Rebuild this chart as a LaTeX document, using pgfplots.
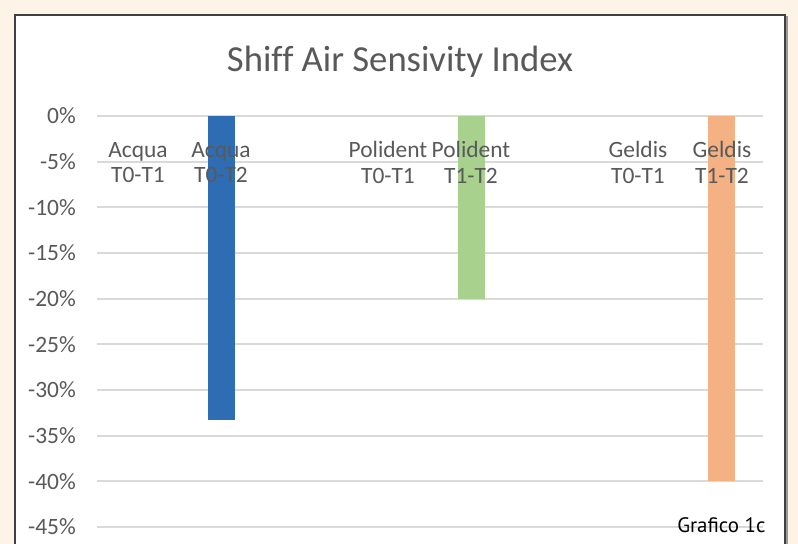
\documentclass[border=0pt]{standalone}
\usepackage{pgfplots}
\pgfplotsset{compat=1.18}
\usepackage{fontspec}
\setmainfont{Carlito}[Ligatures=NoCommon]
\newfontfamily\capfont{PT Sans}[Numbers=OldStyle]
\definecolor{peach}{HTML}{FDF3E7}
\definecolor{txtgray}{HTML}{595959}
\definecolor{gridgray}{HTML}{D9D9D9}
\definecolor{barblue}{HTML}{2E6DB4}
\definecolor{bargreen}{HTML}{A9D18E}
\definecolor{barorange}{HTML}{F4B183}
\begin{document}
\begin{tikzpicture}
\useasboundingbox (0bp,0bp) rectangle (798bp,544bp);
\fill[peach] (0bp,0bp) rectangle (798bp,544bp);
\fill[white] (15bp,0bp) rectangle (785bp,529bp);
\draw[line width=1.2bp, black!75] (15bp,-2bp) -- (15bp,529bp) -- (785bp,529bp) -- (785bp,-2bp);
\draw[line width=2bp, black!40] (786.5bp,-2bp) -- (786.5bp,528bp);
\node[anchor=base, text=txtgray, font=\fontsize{36.8}{44}\selectfont] at (400bp,472bp) {Shiff Air Sensivity Index};
\begin{axis}[
  at={(97bp,17bp)}, anchor=south west,
  scale only axis, width=666bp, height=411bp,
  xmin=97, xmax=763, ymin=-45, ymax=0,
  axis line style={draw=none},
  xtick=\empty,
  ytick={-45,-40,-35,-30,-25,-20,-15,-10,-5,0},
  yticklabels={-45\%,-40\%,-35\%,-30\%,-25\%,-20\%,-15\%,-10\%,-5\%,0\%},
  yticklabel style={font=\fontsize{23.5}{26}\selectfont, text=txtgray, inner sep=0pt, anchor=east, xshift=-21bp},
  major tick length=0pt,
  ymajorgrids, grid style={line width=1.7bp, gridgray},
  clip=false,
]
\addplot[ybar, bar width=26.5, bar shift=0pt, fill=barblue, draw=none] coordinates {(221.5,-33.3)};
\addplot[ybar, bar width=26.5, bar shift=0pt, fill=bargreen, draw=none] coordinates {(471.7,-20)};
\addplot[ybar, bar width=26.5, bar shift=0pt, fill=barorange, draw=none] coordinates {(721.7,-40)};
\foreach \xx/\lab in {138/{Acqua\\T0-T1}, 221/{Acqua\\T0-T2}, 388/{Polident\\T0-T1}, 471/{Polident\\T1-T2}, 638/{Geldis\\T0-T1}, 722/{Geldis\\T1-T2}}{
  \edef\temp{\noexpand\node[align=center, text=txtgray, inner sep=0pt, font=\noexpand\fontsize{23.5}{26}\noexpand\selectfont] at (axis cs:\xx,-5.1) {\unexpanded\expandafter{\lab}};}
  \temp
}
\end{axis}
\node[anchor=base east, font=\capfont\fontsize{21}{24}\selectfont] at (769bp,12bp) {Grafico 1c};
\end{tikzpicture}
\end{document}
